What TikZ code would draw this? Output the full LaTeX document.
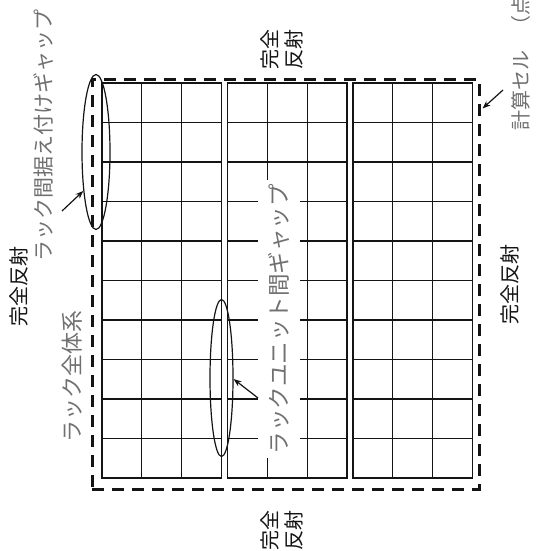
\documentclass[tikz,border=0pt]{standalone}
\usepackage{fontspec}
\newfontfamily\jpfont{Noto Sans CJK JP}
\usetikzlibrary{arrows.meta,shapes.geometric,calc}
\definecolor{ink}{HTML}{141414}
\definecolor{soft}{HTML}{707070}
\tikzset{cell/.style={draw=ink,line width=1.3pt}, wall/.style={draw=ink,line width=3pt,dash pattern=on 12pt off 8pt}, gap/.style={ellipse,draw=ink,line width=1.2pt,inner sep=0pt}, flow/.style={-{Stealth[length=8pt,width=6pt]},line width=1.2pt,draw=ink}, refl/.style={font=\jpfont\fontsize{20}{24}\selectfont,text=ink,align=center,rotate=90,inner sep=0pt}, tag/.style={font=\jpfont\fontsize{#1}{#1}\selectfont,text=soft,rotate=90,inner sep=0pt}, tag/.default=21}

\begin{document}
\begin{tikzpicture}[x=1pt,y=-1pt]
\useasboundingbox (0,0) rectangle (539,551);
% racks
\foreach \r in {0,1,2}{
  \pgfmathsetmacro{\xa}{102+125.5*\r}
  \draw[cell] (\xa,83) rectangle ++(119.5,395);
  \foreach \c in {1,2} \draw[cell] ({\xa+39.83*\c},83) -- ++(0,395);
  \foreach \k in {1,...,9} \draw[cell] (\xa,{83+39.5*\k}) -- ++(119.5,0);
}
\node[wall,minimum width=387pt,minimum height=410pt,inner sep=0pt] (frame) at (285.5,284) {};
% labels
\node[refl] (top) at (282,50) {完全\\反射};
\node[refl] (bot) at (282,530) {完全\\反射};
\node[refl] (lft) at (19,286) {完全反射};
\node[refl] (rgt) at (510,284) {完全反射};
\node[tag=22] (whole) at (72,376) {ラック全体系};
\node[tag] (rackgap) at (43,135) {ラック間据え付けギャップ};
\node[tag=22.5,fill=white,minimum width=278pt,minimum height=42pt] (unitgap) at (279,319) {ラックユニット間ギャップ};
\node[tag=20,anchor=west] (cellnote) at (521,131) {計算セル\hspace{15pt}（点};
% gaps
\node[gap,minimum width=28pt,minimum height=155pt] (e1) at (96,152) {};
\node[gap,minimum width=23pt,minimum height=157pt] (e2) at (221.5,378) {};
\coordinate (t1) at (62,211);
\coordinate (t2) at (258,398);
\coordinate (t3) at (503,90);
\draw[flow] (t1) -- (e1.252);
\draw[flow] (t2) -- (e2.355);
\draw[flow] (t3) -- ($(frame.north east)+(2,31)$);
\end{tikzpicture}
\end{document}
